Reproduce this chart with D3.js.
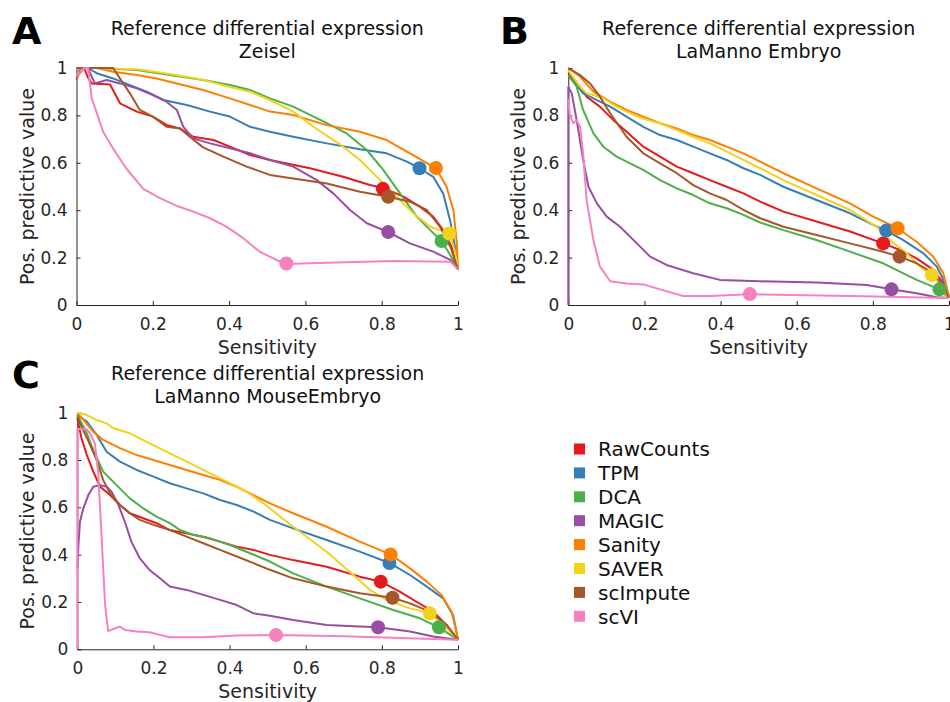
<!DOCTYPE html>
<html>
<head>
<meta charset="utf-8">
<script src="https://cdn.jsdelivr.net/npm/d3@7"></script>
<style>
  html, body { margin: 0; padding: 0; background: #fff; }
  svg { display: block; font-family: "DejaVu Sans", sans-serif; }
</style>
</head>
<body>
<svg id="chart" width="950" height="702"></svg>
<script>
// ---------- DATA ----------
const methods = ["RawCounts", "TPM", "DCA", "MAGIC", "Sanity", "SAVER", "scImpute", "scVI"];
const methodColors = ["#e41a1c", "#377eb8", "#4daf4a", "#984ea3", "#ff7f00", "#f2d31c", "#a65628", "#f781bf"];
const tickValues = [0, 0.2, 0.4, 0.6, 0.8, 1];
const tickLabels = ["0", "0.2", "0.4", "0.6", "0.8", "1"];
const panelLetters = ["A", "B", "C"];
const panelTitles = [
  ["Reference differential expression", "Zeisel"],
  ["Reference differential expression", "LaManno Embryo"],
  ["Reference differential expression", "LaManno MouseEmbryo"]
];

// Panel A – Zeisel: [sensitivity, pos. predictive value]
const A_RawCounts = [[0,1],[0.02,1],[0.03,0.96],[0.04,0.935],[0.088,0.93],[0.114,0.851],[0.158,0.816],[0.2,0.795],[0.236,0.76],[0.271,0.745],[0.306,0.71],[0.359,0.696],[0.402,0.668],[0.455,0.633],[0.507,0.612],[0.612,0.577],[0.699,0.541],[0.769,0.506],[0.803,0.495],[0.857,0.457],[0.9,0.415],[0.935,0.373],[0.961,0.316],[0.983,0.246],[1,0.15]];
const A_TPM = [[0,1],[0.03,1],[0.053,0.978],[0.096,0.956],[0.14,0.928],[0.184,0.9],[0.228,0.865],[0.289,0.844],[0.35,0.816],[0.402,0.795],[0.455,0.752],[0.507,0.731],[0.568,0.71],[0.656,0.682],[0.743,0.657],[0.813,0.64],[0.866,0.605],[0.899,0.577],[0.935,0.541],[0.961,0.471],[0.979,0.359],[0.992,0.246],[1,0.15]];
const A_DCA = [[0,1],[0.05,1],[0.158,0.992],[0.245,0.97],[0.332,0.949],[0.402,0.928],[0.455,0.907],[0.507,0.872],[0.568,0.837],[0.656,0.767],[0.708,0.724],[0.761,0.654],[0.804,0.57],[0.848,0.471],[0.892,0.373],[0.927,0.316],[0.957,0.27],[0.98,0.21],[1,0.15]];
const A_MAGIC = [[0,0.95],[0.01,1],[0.03,1],[0.048,0.935],[0.079,0.949],[0.114,0.935],[0.158,0.914],[0.2,0.886],[0.236,0.858],[0.263,0.823],[0.28,0.752],[0.306,0.703],[0.35,0.682],[0.402,0.661],[0.455,0.64],[0.507,0.612],[0.568,0.584],[0.63,0.527],[0.673,0.471],[0.717,0.401],[0.761,0.345],[0.817,0.308],[0.874,0.26],[0.935,0.225],[0.98,0.19],[1,0.15]];
const A_Sanity = [[0,0.96],[0.02,1],[0.053,1],[0.096,0.984],[0.158,0.97],[0.21,0.956],[0.263,0.935],[0.332,0.907],[0.402,0.872],[0.455,0.844],[0.507,0.816],[0.568,0.802],[0.656,0.759],[0.743,0.731],[0.813,0.696],[0.874,0.64],[0.942,0.578],[0.97,0.499],[0.988,0.4],[0.997,0.26],[1,0.15]];
const A_SAVER = [[0,1],[0.05,1],[0.158,0.995],[0.245,0.975],[0.332,0.95],[0.402,0.92],[0.455,0.9],[0.507,0.865],[0.568,0.816],[0.621,0.752],[0.699,0.668],[0.743,0.612],[0.796,0.527],[0.839,0.457],[0.883,0.387],[0.927,0.33],[0.977,0.302],[0.99,0.24],[1,0.15]];
const A_scImpute = [[0,1],[0.096,1],[0.114,0.956],[0.14,0.893],[0.166,0.823],[0.2,0.795],[0.236,0.752],[0.271,0.745],[0.297,0.71],[0.332,0.665],[0.385,0.626],[0.446,0.584],[0.507,0.549],[0.568,0.534],[0.656,0.513],[0.743,0.478],[0.817,0.457],[0.874,0.436],[0.918,0.401],[0.953,0.33],[0.98,0.246],[1,0.15]];
const A_scVI = [[0,0.97],[0.02,1],[0.03,1],[0.04,0.873],[0.07,0.73],[0.096,0.66],[0.13,0.577],[0.175,0.49],[0.22,0.45],[0.26,0.42],[0.306,0.394],[0.35,0.366],[0.393,0.331],[0.437,0.282],[0.48,0.225],[0.524,0.19],[0.55,0.173],[0.656,0.178],[0.83,0.186],[0.98,0.183],[1,0.15]];

// Panel B – LaManno Embryo
const B_RawCounts = [[0,0.98],[0.031,0.92],[0.048,0.879],[0.083,0.837],[0.118,0.781],[0.153,0.731],[0.197,0.668],[0.241,0.626],[0.285,0.584],[0.328,0.556],[0.372,0.527],[0.416,0.499],[0.46,0.471],[0.504,0.436],[0.565,0.394],[0.652,0.352],[0.74,0.31],[0.827,0.26],[0.871,0.232],[0.915,0.197],[0.959,0.148],[0.985,0.092],[1,0.03]];
const B_TPM = [[0,0.97],[0.018,0.935],[0.039,0.893],[0.066,0.872],[0.11,0.837],[0.153,0.795],[0.197,0.752],[0.241,0.717],[0.285,0.696],[0.328,0.668],[0.372,0.64],[0.416,0.612],[0.46,0.577],[0.504,0.549],[0.565,0.499],[0.652,0.443],[0.74,0.387],[0.801,0.338],[0.835,0.314],[0.88,0.274],[0.933,0.218],[0.968,0.162],[0.99,0.092],[1,0.03]];
const B_DCA = [[0,0.97],[0.022,0.921],[0.039,0.823],[0.066,0.724],[0.092,0.668],[0.127,0.626],[0.153,0.605],[0.197,0.57],[0.241,0.527],[0.285,0.492],[0.328,0.464],[0.372,0.429],[0.416,0.408],[0.46,0.38],[0.504,0.348],[0.565,0.316],[0.652,0.274],[0.74,0.225],[0.827,0.176],[0.915,0.106],[0.975,0.066],[1,0.03]];
const B_MAGIC = [[0,0],[0,0.92],[0.009,0.893],[0.022,0.78],[0.039,0.612],[0.053,0.499],[0.075,0.429],[0.101,0.373],[0.136,0.33],[0.18,0.26],[0.215,0.204],[0.258,0.169],[0.328,0.134],[0.398,0.106],[0.504,0.1],[0.652,0.095],[0.784,0.084],[0.849,0.066],[0.915,0.05],[0.968,0.033],[1,0.03]];
const B_Sanity = [[0,1],[0.031,0.963],[0.066,0.9],[0.11,0.858],[0.153,0.823],[0.197,0.795],[0.241,0.767],[0.285,0.745],[0.328,0.717],[0.372,0.696],[0.416,0.668],[0.46,0.64],[0.504,0.605],[0.565,0.556],[0.652,0.492],[0.74,0.429],[0.801,0.373],[0.865,0.324],[0.915,0.267],[0.959,0.204],[0.985,0.134],[1,0.035]];
const B_SAVER = [[0,0.99],[0.031,0.92],[0.048,0.893],[0.066,0.886],[0.092,0.872],[0.127,0.837],[0.171,0.802],[0.206,0.781],[0.241,0.767],[0.285,0.738],[0.328,0.71],[0.372,0.682],[0.416,0.647],[0.46,0.612],[0.504,0.577],[0.565,0.527],[0.652,0.464],[0.74,0.401],[0.81,0.33],[0.845,0.274],[0.889,0.218],[0.924,0.162],[0.955,0.127],[0.98,0.08],[1,0.03]];
const B_scImpute = [[0,1],[0.031,0.97],[0.057,0.935],[0.083,0.879],[0.11,0.809],[0.153,0.71],[0.197,0.64],[0.241,0.598],[0.285,0.556],[0.328,0.506],[0.372,0.471],[0.416,0.443],[0.46,0.401],[0.504,0.366],[0.565,0.33],[0.652,0.295],[0.74,0.26],[0.827,0.225],[0.87,0.204],[0.915,0.176],[0.959,0.134],[0.985,0.078],[1,0.03]];
const B_scVI = [[0,0.87],[0.004,0.8],[0.013,0.767],[0.022,0.78],[0.031,0.752],[0.039,0.64],[0.048,0.443],[0.066,0.274],[0.083,0.162],[0.11,0.1],[0.153,0.091],[0.197,0.087],[0.241,0.066],[0.302,0.038],[0.372,0.038],[0.477,0.045],[0.74,0.038],[1,0.03]];

// Panel C – LaManno MouseEmbryo
const C_RawCounts = [[0,0.976],[0.011,0.892],[0.025,0.821],[0.042,0.751],[0.06,0.687],[0.086,0.652],[0.112,0.61],[0.138,0.575],[0.173,0.554],[0.208,0.533],[0.243,0.504],[0.287,0.49],[0.331,0.476],[0.375,0.455],[0.419,0.434],[0.463,0.42],[0.506,0.399],[0.567,0.377],[0.655,0.349],[0.742,0.307],[0.797,0.286],[0.848,0.243],[0.891,0.201],[0.935,0.159],[0.97,0.103],[1,0.04]];
const C_TPM = [[0,0.99],[0.025,0.962],[0.051,0.906],[0.077,0.835],[0.112,0.793],[0.156,0.758],[0.2,0.73],[0.243,0.702],[0.287,0.68],[0.331,0.659],[0.375,0.631],[0.419,0.61],[0.463,0.582],[0.506,0.547],[0.567,0.511],[0.655,0.462],[0.742,0.413],[0.82,0.365],[0.874,0.314],[0.918,0.265],[0.961,0.215],[0.987,0.145],[1,0.04]];
const C_DCA = [[0,0.99],[0.025,0.913],[0.042,0.842],[0.068,0.751],[0.103,0.694],[0.138,0.638],[0.173,0.596],[0.208,0.561],[0.243,0.533],[0.27,0.504],[0.305,0.483],[0.349,0.469],[0.401,0.441],[0.454,0.406],[0.506,0.371],[0.567,0.321],[0.655,0.265],[0.742,0.215],[0.83,0.166],[0.9,0.131],[0.95,0.093],[1,0.04]];
const C_MAGIC = [[0,0.342],[0.003,0.44],[0.007,0.539],[0.016,0.596],[0.029,0.652],[0.042,0.687],[0.06,0.694],[0.077,0.687],[0.09,0.666],[0.108,0.61],[0.125,0.539],[0.142,0.455],[0.164,0.385],[0.19,0.335],[0.217,0.3],[0.243,0.265],[0.287,0.251],[0.331,0.23],[0.375,0.209],[0.419,0.187],[0.463,0.152],[0.506,0.142],[0.567,0.124],[0.655,0.103],[0.742,0.096],[0.79,0.093],[0.874,0.075],[0.935,0.054],[1,0.04]];
const C_Sanity = [[0,1],[0.02,0.962],[0.042,0.92],[0.068,0.885],[0.112,0.85],[0.156,0.821],[0.2,0.8],[0.243,0.779],[0.287,0.758],[0.331,0.737],[0.375,0.716],[0.419,0.687],[0.463,0.652],[0.506,0.617],[0.567,0.575],[0.655,0.518],[0.742,0.455],[0.823,0.401],[0.874,0.342],[0.918,0.286],[0.957,0.229],[0.983,0.159],[0.996,0.075],[1,0.04]];
const C_SAVER = [[0,1],[0.025,0.99],[0.051,0.969],[0.077,0.955],[0.095,0.934],[0.138,0.913],[0.182,0.877],[0.226,0.842],[0.27,0.807],[0.314,0.772],[0.357,0.737],[0.401,0.702],[0.445,0.666],[0.489,0.617],[0.567,0.518],[0.655,0.412],[0.725,0.314],[0.769,0.251],[0.813,0.208],[0.874,0.173],[0.926,0.152],[0.97,0.089],[1,0.04]];
const C_scImpute = [[0,0.983],[0.011,0.94],[0.028,0.884],[0.051,0.8],[0.068,0.715],[0.086,0.659],[0.112,0.61],[0.138,0.575],[0.164,0.547],[0.2,0.526],[0.243,0.504],[0.287,0.476],[0.331,0.448],[0.375,0.42],[0.419,0.392],[0.463,0.364],[0.506,0.336],[0.567,0.3],[0.655,0.265],[0.742,0.237],[0.828,0.218],[0.874,0.194],[0.926,0.159],[0.97,0.103],[1,0.04]];
const C_scVI = [[0,0],[0,0.93],[0.025,0.93],[0.033,0.913],[0.046,0.87],[0.055,0.744],[0.064,0.469],[0.073,0.188],[0.081,0.077],[0.099,0.089],[0.112,0.096],[0.125,0.082],[0.156,0.075],[0.19,0.072],[0.217,0.061],[0.243,0.051],[0.331,0.051],[0.419,0.058],[0.522,0.06],[0.7,0.055],[1,0.04]];

// Highlighted operating points (one per method, in method order)
const A_points = [[0.803,0.49],[0.899,0.577],[0.957,0.27],[0.817,0.308],[0.942,0.578],[0.977,0.302],[0.817,0.457],[0.55,0.175]];
const B_points = [[0.827,0.26],[0.835,0.314],[0.975,0.066],[0.849,0.066],[0.865,0.324],[0.955,0.127],[0.87,0.204],[0.477,0.046]];
const C_points = [[0.797,0.286],[0.82,0.365],[0.95,0.093],[0.79,0.093],[0.823,0.401],[0.926,0.152],[0.828,0.218],[0.522,0.06]];

const panelCurves = [
  [A_RawCounts, A_TPM, A_DCA, A_MAGIC, A_Sanity, A_SAVER, A_scImpute, A_scVI],
  [B_RawCounts, B_TPM, B_DCA, B_MAGIC, B_Sanity, B_SAVER, B_scImpute, B_scVI],
  [C_RawCounts, C_TPM, C_DCA, C_MAGIC, C_Sanity, C_SAVER, C_scImpute, C_scVI]
];
const panelPoints = [A_points, B_points, C_points];

// ---------- LAYOUT ----------
const svg = d3.select("#chart");
const textColor = "#262626";
const panelBoxes = [
  { x0: 76.5, x1: 458, y0: 68, y1: 305, letterX: 12, letterY: 44 },
  { x0: 568.3, x1: 949, y0: 68, y1: 305, letterX: 500, letterY: 44 },
  { x0: 77.3, x1: 458, y0: 412.7, y1: 649.3, letterX: 12, letterY: 388 }
];

panelBoxes.forEach((b, pi) => {
  const x = d3.scaleLinear().domain([0, 1]).range([b.x0, b.x1]);
  const y = d3.scaleLinear().domain([0, 1]).range([b.y1, b.y0]);
  const g = svg.append("g");

  // axes
  const xAxis = d3.axisBottom(x).tickValues(tickValues)
    .tickFormat((d, i) => tickLabels[i]).tickSizeInner(-4).tickSizeOuter(0).tickPadding(9);
  const yAxis = d3.axisLeft(y).tickValues(tickValues)
    .tickFormat((d, i) => tickLabels[i]).tickSizeInner(-4).tickSizeOuter(0).tickPadding(9);

  const gx = g.append("g").attr("transform", `translate(0,${b.y1})`).call(xAxis);
  const gy = g.append("g").attr("transform", `translate(${b.x0},0)`).call(yAxis);
  [gx, gy].forEach(ax => {
    ax.select(".domain").attr("stroke", textColor).attr("stroke-width", 1);
    ax.selectAll(".tick line").attr("stroke", textColor);
    ax.selectAll(".tick text").attr("fill", textColor)
      .style("font-size", "17px").style("font-family", "DejaVu Sans, sans-serif");
  });
  gx.selectAll(".tick text").attr("dy", "0.95em");

  // curves
  const line = d3.line().x(d => x(d[0])).y(d => y(d[1]));
  panelCurves[pi].forEach((curve, mi) => {
    g.append("path").datum(curve)
      .attr("d", line)
      .attr("fill", "none")
      .attr("stroke", methodColors[mi])
      .attr("stroke-width", 2)
      .attr("stroke-linejoin", "round");
  });
  // points
  panelPoints[pi].forEach((p, mi) => {
    g.append("circle")
      .attr("cx", x(p[0])).attr("cy", y(p[1])).attr("r", 7)
      .attr("fill", methodColors[mi]);
  });

  // titles
  const cx = (b.x0 + b.x1) / 2;
  g.append("text").attr("x", cx).attr("y", b.y0 - 33)
    .attr("text-anchor", "middle").attr("fill", "#111")
    .style("font-size", "19px").text(panelTitles[pi][0]);
  g.append("text").attr("x", cx).attr("y", b.y0 - 10)
    .attr("text-anchor", "middle").attr("fill", "#111")
    .style("font-size", "19px").text(panelTitles[pi][1]);

  // axis labels
  g.append("text").attr("x", cx).attr("y", b.y1 + 49)
    .attr("text-anchor", "middle").attr("fill", textColor)
    .style("font-size", "19px").text("Sensitivity");
  g.append("text")
    .attr("transform", `translate(${b.x0 - 43},${(b.y0 + b.y1) / 2}) rotate(-90)`)
    .attr("text-anchor", "middle").attr("fill", textColor)
    .style("font-size", "19px").text("Pos. predictive value");

  // panel letter
  svg.append("text").attr("x", b.letterX).attr("y", b.letterY)
    .attr("fill", "#000").style("font-size", "38px").style("font-weight", "bold")
    .text(panelLetters[pi]);
});

// ---------- LEGEND ----------
const legend = svg.append("g").attr("transform", "translate(574,449)");
methods.forEach((m, i) => {
  const row = legend.append("g").attr("transform", `translate(0,${i * 23.9})`);
  row.append("rect").attr("x", 0).attr("y", -5.5).attr("width", 11).attr("height", 11)
    .attr("fill", methodColors[i]);
  row.append("text").attr("x", 24).attr("y", 0).attr("dy", "0.36em")
    .attr("fill", "#111").style("font-size", "20px").text(m);
});
</script>
</body>
</html>
